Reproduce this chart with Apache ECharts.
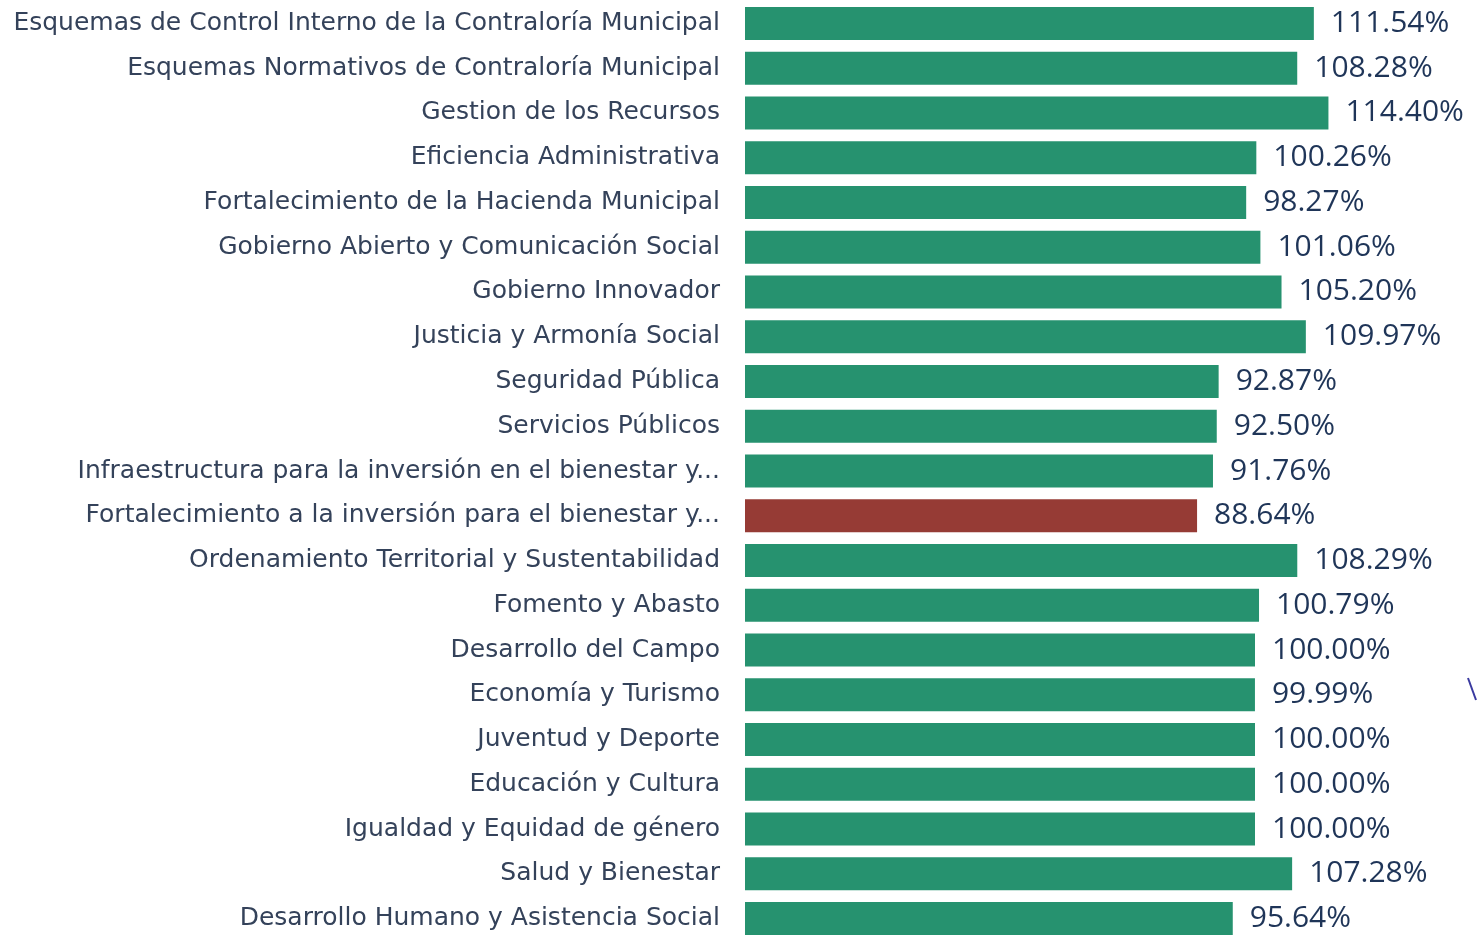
<!DOCTYPE html>
<html><head><meta charset="utf-8">
<script src="https://cdn.jsdelivr.net/npm/echarts@6/dist/echarts.min.js"></script>
<style>html,body{margin:0;padding:0;background:#fff}#c{width:1477px;height:935px}</style>
</head><body><div id="c"></div>
<script>
const categories = [
  "Esquemas de Control Interno de la Contraloría Municipal",
  "Esquemas Normativos de Contraloría Municipal",
  "Gestion de los Recursos",
  "Eficiencia Administrativa",
  "Fortalecimiento de la Hacienda Municipal",
  "Gobierno Abierto y Comunicación Social",
  "Gobierno Innovador",
  "Justicia y Armonía Social",
  "Seguridad Pública",
  "Servicios Públicos",
  "Infraestructura para la inversión en el bienestar y...",
  "Fortalecimiento a la inversión para el bienestar y...",
  "Ordenamiento Territorial y Sustentabilidad",
  "Fomento y Abasto",
  "Desarrollo del Campo",
  "Economía y Turismo",
  "Juventud y Deporte",
  "Educación y Cultura",
  "Igualdad y Equidad de género",
  "Salud y Bienestar",
  "Desarrollo Humano y Asistencia Social"
];
const values = [111.54,108.28,114.40,100.26,98.27,101.06,105.20,109.97,92.87,92.50,91.76,88.64,108.29,100.79,100.00,99.99,100.00,100.00,100.00,107.28,95.64];
const highlightIndex = 11;
const GREEN = "#26926f", RED = "#963b35";

const chart = echarts.init(document.getElementById('c'));
chart.setOption({
  animation: false,
  grid: {left: 745, right: 18, top: 1, height: 940, containLabel: false, outerBoundsMode: 'none'},
  xAxis: {type: 'value', min: 0, max: 140, show: false},
  yAxis: {
    type: 'category', data: categories, inverse: true,
    axisLine: {show: false}, axisTick: {show: false},
    axisLabel: {margin: 25, fontFamily: 'DejaVu Sans', fontSize: 25, color: '#34425a'}
  },
  series: [{
    type: 'bar',
    barWidth: 33,
    data: values.map((v, i) => ({value: v, itemStyle: {color: i === highlightIndex ? RED : GREEN}})),
    label: {
      show: true, position: 'right', distance: 17,
      fontFamily: 'Open Sans', fontSize: 30, color: '#1f3558',
      formatter: p => p.value.toFixed(2) + '%'
    }
  }],
  graphic: [{type: 'line', shape: {x1: 1468, y1: 678, x2: 1476, y2: 700}, style: {stroke: '#3a3aa0', lineWidth: 2}}]
});
</script></body></html>
